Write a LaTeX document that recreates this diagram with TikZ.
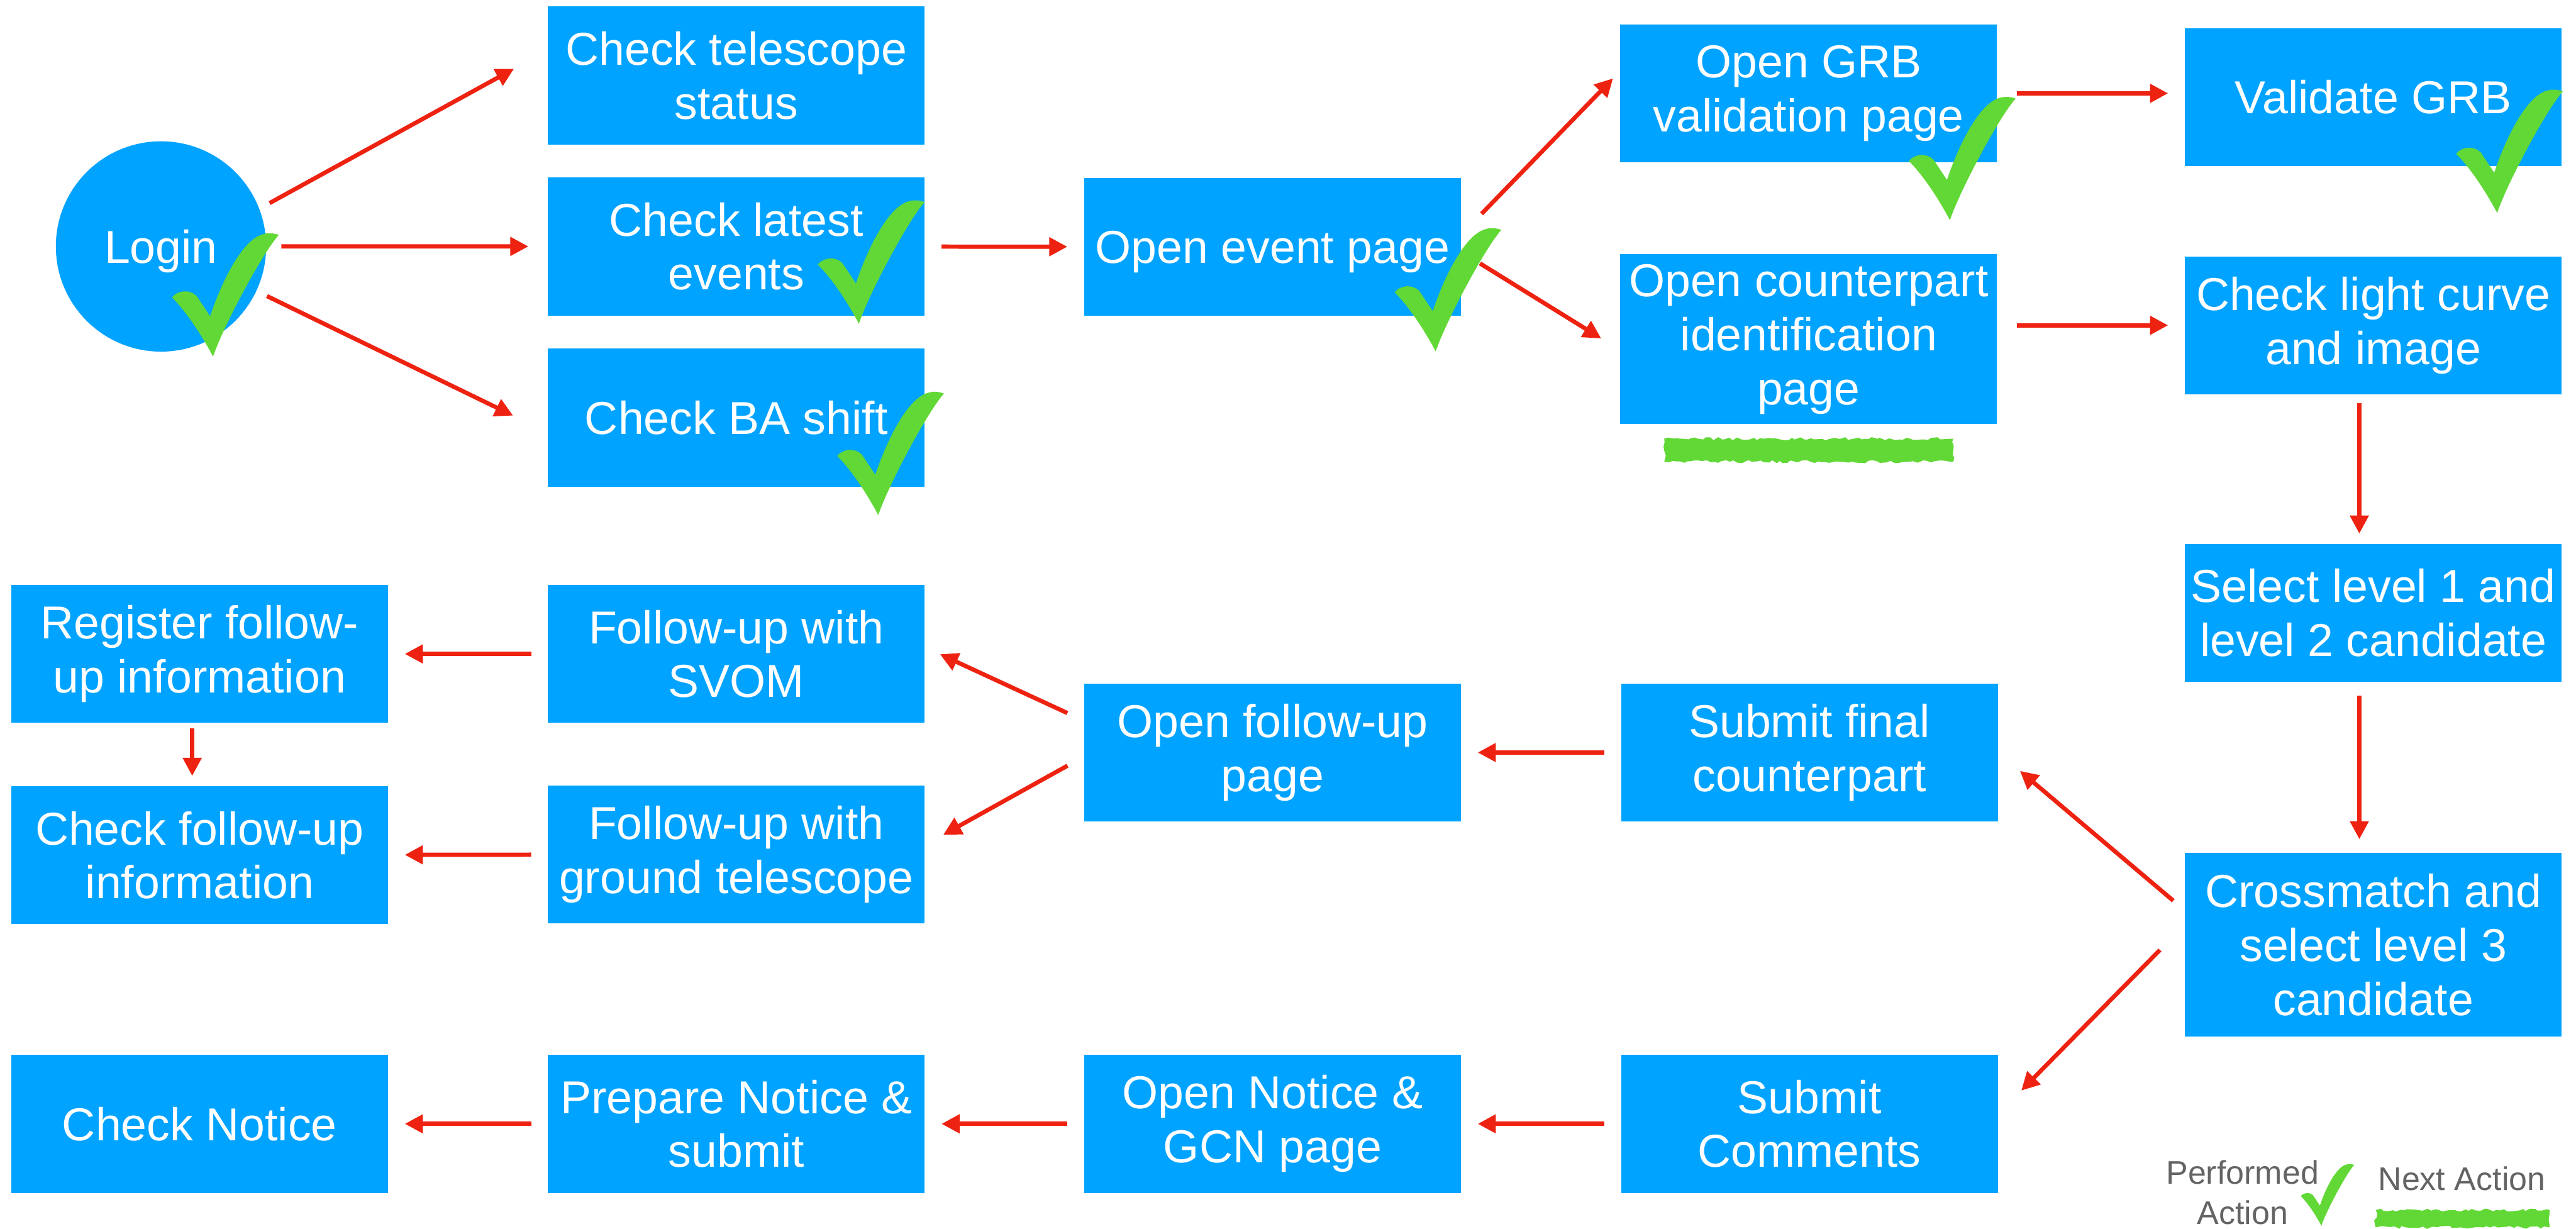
\documentclass[tikz,border=0pt]{standalone}
\usepackage{fontspec}
\setmainfont{Liberation Sans}
\usepackage{tikz}
\usetikzlibrary{arrows.meta, positioning, decorations.pathmorphing}

\definecolor{boxblue}{RGB}{0,163,255}
\definecolor{arrred}{RGB}{238,34,16}
\definecolor{tickgreen}{RGB}{98,216,54}
\definecolor{legendgray}{RGB}{100,100,100}

\tikzset{
    tick/.pic={
        \fill[tickgreen] (0,0) .. controls (-8,-15) and (-17,-28) .. (-25,-36)
            .. controls (-21.5,-40.5) and (-14,-41) .. (-10,-36.8) -- (-1.8,-24.5)
            .. controls (5,-45) and (18,-72) .. (31,-74.6)
            .. controls (34,-75.5) and (37,-75) .. (40,-74)
            .. controls (30,-63) and (6,-18) .. (0,0) -- cycle;
    }
}

\begin{document}
\begin{tikzpicture}[
    x=0.03cm, y=-0.03cm,
    act/.style={draw=none, rectangle, fill=boxblue, text=white, minimum width=6.88cm, minimum height=2.52cm, align=center, inner sep=0pt, font=\fontsize{24}{28}\selectfont},
    arr/.style={-{Triangle[length=0.33cm, width=0.33cm]}, draw=arrred, line width=2.2pt, shorten <=0.3cm, shorten >=0.3cm},
    legend/.style={text=legendgray, align=center, inner sep=0pt, font=\fontsize{17}{21}\selectfont},
    scribble/.style={fill=tickgreen, decorate, decoration={random steps, segment length=2pt, amplitude=0.8pt}},
    node distance=2cm,
    >=latex
]
\useasboundingbox (0,0) rectangle (1568,748);

% Login and first checks
\node[circle, fill=boxblue, text=white, minimum size=3.84cm, inner sep=0pt, text depth=0pt, font=\fontsize{24}{28}\selectfont] (login) at (98,150) {Login};

\node[act] (tel) at (448.2,46) {Check telescope\\status};
\node[act, below=0.585cm of tel] (latest) {Check latest\\events};
\node[act, below=0.59cm of latest] (ba) {Check BA shift};

% Event page and its two branches
\node[act, text depth=0pt] (event) at (774.6,150.3) {Open event page};
\node[act] (gval) at (1100.9,56.8) {Open GRB\\validation page};
\node[act, minimum height=3.1cm] (cpart) at (1100.9,206.5) {Open counterpart\\identification\\page};

% Right column
\node[act] (valid) at (1444.6,59.1) {Validate GRB};
\node[act] (light) at (1444.6,198) {Check light curve\\and image};
\node[act] (select) at (1444.6,373) {Select level 1 and\\level 2 candidate};
\node[act, minimum height=3.36cm] (cross) at (1444.6,575) {Crossmatch and\\select level 3\\candidate};

% Lower part
\node[act] (final) at (1101.4,458) {Submit final\\counterpart};
\node[act] (comments) at (1101.4,684) {Submit\\Comments};
\node[act] (follow) at (774.6,458) {Open follow-up\\page};
\node[act] (notice) at (774.6,684) {Open Notice \&\\GCN page};
\node[act] (svom) at (448.2,398) {Follow-up with\\SVOM};
\node[act] (ground) at (448.2,520) {Follow-up with\\ground telescope};
\node[act] (prepare) at (448.2,684) {Prepare Notice \&\\submit};
\node[act] (register) at (121.5,398) {Register follow-\\up information};
\node[act, below=1.14cm of register] (checkfu) {Check follow-up\\information};
\node[act] (checknotice) at (121.5,684) {Check Notice};

% Arrows, top
\draw[arr, shorten <=0.21cm, shorten >=0.7cm] (login.21) -- ([shift={(0,-15.4)}]tel.west);
\draw[arr, shorten <=0.27cm, shorten >=0.35cm] (login) -- (latest);
\draw[arr, shorten <=0.21cm, shorten >=0.7cm] (login.-25) -- ([shift={(0,9)}]ba.west);
\draw[arr] (latest) -- (event);
\draw[arr, shorten <=0.53cm, shorten >=0.18cm] ([shift={(0,-7.5)}]event.east) -- ([shift={(0,-13.4)}]gval.west);
\draw[arr, shorten <=0.4cm, shorten >=0.4cm] ([shift={(0,3)}]event.east) -- ([shift={(0,6.5)}]cpart.west);
\draw[arr, shorten <=0.35cm] (gval.east) -- (gval.east -| valid.west);
\draw[arr, shorten <=0.35cm] (light.west -| cpart.east) -- (light.west);

% Arrows, right column
\draw[arr, shorten <=0.15cm, shorten >=0.18cm] ([shift={(-8.5,0)}]light.south) -- ([shift={(-8.5,0)}]select.north);
\draw[arr, shorten <=0.24cm, shorten >=0.24cm] ([shift={(-8.5,0)}]select.south) -- ([shift={(-8.5,0)}]cross.north);
\draw[arr, shorten <=0.27cm, shorten >=0.52cm] ([shift={(0,-21)}]cross.west) -- (final.east);
\draw[arr, shorten <=0.64cm, shorten >=0.6cm] ([shift={(0,-12)}]cross.west) -- ([shift={(0,-6)}]comments.east);

% Arrows, follow-up
\draw[arr] (final) -- (follow);
\draw[arr, shorten <=0.33cm] ([shift={(0,-19.4)}]follow.west) -- ([shift={(0,-4)}]svom.east);
\draw[arr, shorten <=0.34cm, shorten >=0.38cm] ([shift={(0,2.5)}]follow.west) -- ([shift={(0,-5.8)}]ground.east);
\draw[arr] (svom) -- (register);
\draw[arr] (ground) -- (checkfu);
\draw[arr, shorten <=0.09cm, shorten >=0.18cm] ([shift={(-4.5,0)}]register.south) -- ([shift={(-4.5,0)}]checkfu.north);

% Arrows, notice
\draw[arr] (comments) -- (notice);
\draw[arr] (notice) -- (prepare);
\draw[arr] (prepare) -- (checknotice);

% Performed actions
\pic at (129.7,217) {tick};
\pic at (522.8,197) {tick};
\pic at (534.6,313.5) {tick};
\pic at (873.9,213.9) {tick};
\pic at (1186.9,134) {tick};
\pic at (1520,129.6) {tick};

% Next action
\pgfmathsetseed{7}
\fill[scribble] (1013,267) rectangle (1189,281);

% Legend
\node[legend, anchor=north] (perf) at (1365,706) {Performed\\Action};
\pic[scale=0.5] at (1413,746) {tick};
\node[legend, anchor=north] (next) at (1498.5,709.7) {Next Action};
\fill[scribble] (1446,736.5) rectangle (1552,747);

\end{tikzpicture}
\end{document}
